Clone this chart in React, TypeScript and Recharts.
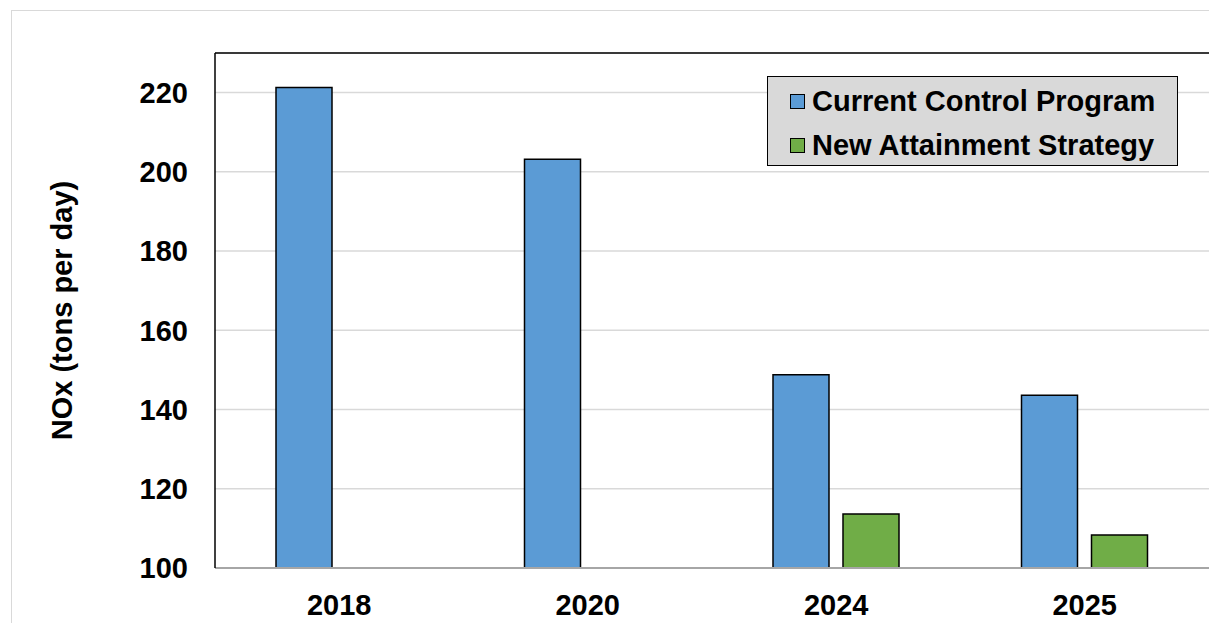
import { BarChart, Bar, XAxis, YAxis, CartesianGrid, Legend, ReferenceLine, Label } from 'recharts'

const YEARS = ['2018', '2020', '2024', '2025']
const CURRENT = [221.3, 203.2, 148.8, 143.6]
const NEW_STRATEGY: (number | null)[] = [null, null, 113.6, 108.3]
const Y_TICKS = [100, 120, 140, 160, 180, 200, 220]

const SERIES = [
  { key: 'current', name: 'Current Control Program', color: '#5B9BD5' },
  { key: 'strategy', name: 'New Attainment Strategy', color: '#70AD47' },
]

const data = YEARS.map((year, i) => ({
  year,
  current: CURRENT[i],
  strategy: NEW_STRATEGY[i],
}))

const FONT = 'Arial, "Liberation Sans", sans-serif'
const tickStyle = { fontSize: 29, fontWeight: 700, fill: '#000', fontFamily: FONT }

// legend box — grey fill with black outline, like the Excel original
function LegendBox() {
  return (
    <div
      style={{
        background: '#d9d9d9',
        border: '1.5px solid #000',
        boxSizing: 'border-box',
        width: 411,
        height: 90,
        padding: '2px 0 0 22px',
        fontFamily: FONT,
        fontWeight: 700,
        fontSize: 29,
        color: '#000',
        textAlign: 'left',
      }}
    >
      {SERIES.map(s => (
        <div key={s.key} style={{ display: 'flex', alignItems: 'center', height: 44 }}>
          <span
            style={{
              display: 'inline-block',
              width: 15,
              height: 15,
              background: s.color,
              border: '1px solid #000',
              boxSizing: 'border-box',
              marginRight: 7,
            }}
          />
          <span>{s.name}</span>
        </div>
      ))}
    </div>
  )
}

export default function App() {
  return (
    <div style={{ position: 'absolute', left: 0, top: 0, width: 1209, height: 623, overflow: 'hidden', background: '#fff' }}>
      {/* outer chart frame */}
      <div
        style={{
          position: 'absolute',
          left: 11,
          top: 10,
          width: 1400,
          height: 800,
          border: '1.5px solid #d9d9d9',
        }}
      />
      <div style={{ position: 'absolute', left: 0, top: 0 }}>
        <BarChart
          width={1209}
          height={623}
          data={data}
          margin={{ top: 53, right: 0, left: 115, bottom: 0 }}
          barSize={56}
          barGap={14}
        >
          <CartesianGrid vertical={false} stroke="#d9d9d9" strokeWidth={1.5} />
          <XAxis
            dataKey="year"
            height={55}
            tickLine={false}
            tickSize={0}
            tickMargin={26}
            axisLine={{ stroke: '#a6a6a6', strokeWidth: 2 }}
            tick={tickStyle}
          />
          <YAxis
            width={100}
            domain={[100, 230]}
            ticks={Y_TICKS}
            allowDataOverflow
            tickLine={false}
            tickSize={0}
            tickMargin={27}
            axisLine={{ stroke: '#000', strokeWidth: 1.5 }}
            tick={tickStyle}
          >
            <Label
              value="NOx (tons per day)"
              angle={-90}
              position="center"
              dx={-103}
              style={{ fontSize: 29, fontWeight: 700, fill: '#000', fontFamily: FONT, textAnchor: 'middle' }}
            />
          </YAxis>
          <ReferenceLine y={230} stroke="#000" strokeWidth={1.5} />
          <Legend
            layout="vertical"
            align="center"
            verticalAlign="middle"
            content={() => <LegendBox />}
            wrapperStyle={{ left: 767, top: 76, width: 411, height: 90 }}
          />
          {SERIES.map(s => (
            <Bar
              key={s.key}
              dataKey={s.key}
              name={s.name}
              fill={s.color}
              stroke="#000"
              strokeWidth={1.5}
              isAnimationActive={false}
            />
          ))}
        </BarChart>
      </div>
    </div>
  )
}
